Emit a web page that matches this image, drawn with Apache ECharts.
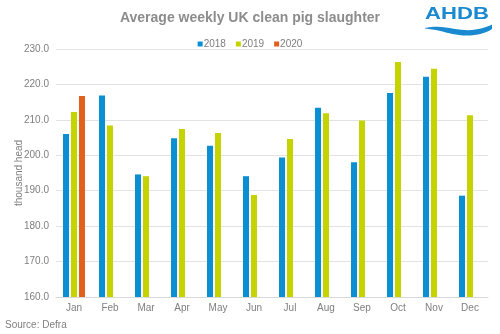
<!DOCTYPE html>
<html>
<head>
<meta charset="utf-8">
<script src="https://cdn.jsdelivr.net/npm/echarts@6/dist/echarts.min.js"></script>
<style>
  html, body { margin: 0; padding: 0; background: #fff; }
  #chart { width: 500px; height: 334px; }
</style>
</head>
<body>
<div id="chart"></div>
<script>
// Average weekly clean pig slaughter, thousand head
const months = ['Jan', 'Feb', 'Mar', 'Apr', 'May', 'Jun', 'Jul', 'Aug', 'Sep', 'Oct', 'Nov', 'Dec'];
const years = ['2018', '2019', '2020'];
const values2018 = [206.0, 216.9, 194.6, 204.8, 202.7, 194.1, 199.4, 213.4, 198.0, 217.6, 222.2, 188.6];
const values2019 = [212.2, 208.4, 194.1, 207.4, 206.3, 188.8, 204.6, 211.9, 209.8, 226.3, 224.4, 211.3];
const values2020 = [216.7, null, null, null, null, null, null, null, null, null, null, null];
const yTicks = { min: 160, max: 230, step: 10 };

const colors = ['#0a8fd2', '#c5d400', '#e0601c'];
const font = '"Liberation Sans", Arial, sans-serif';
const seriesValues = [values2018, values2019, values2020];

// Sample a cubic bezier into points
function cubic(p0, p1, p2, p3, n) {
  const pts = [];
  for (let i = 0; i <= n; i++) {
    const t = i / n, u = 1 - t;
    pts.push([
      u * u * u * p0[0] + 3 * u * u * t * p1[0] + 3 * u * t * t * p2[0] + t * t * t * p3[0],
      u * u * u * p0[1] + 3 * u * u * t * p1[1] + 3 * u * t * t * p2[1] + t * t * t * p3[1]
    ]);
  }
  return pts;
}
// Logo swoosh outline: upper edge left->right, lower edge right->left
const swoosh = [].concat(
  cubic([425, 28], [442, 24], [458, 31.5], [472, 30], 12),
  cubic([472, 30], [481, 29], [487, 27], [492, 24.5], 8),
  cubic([492, 29], [486, 33], [478, 35.5], [466, 35.5], 8),
  cubic([466, 35.5], [452, 35.5], [440, 29.5], [425, 28.6], 12)
);

const chart = echarts.init(document.getElementById('chart'), null, { renderer: 'canvas' });

chart.setOption({
  animation: false,
  color: colors,
  textStyle: { fontFamily: font },
  title: {
    text: 'Average weekly UK clean pig slaughter',
    left: 'center',
    top: 6,
    textStyle: { fontFamily: font, fontSize: 14, fontWeight: 'bold', color: '#8c8c8c' }
  },
  legend: {
    data: years,
    top: 34,
    left: 'center',
    itemWidth: 5,
    itemHeight: 5,
    itemGap: 10,
    icon: 'rect',
    textStyle: { fontFamily: font, fontSize: 10, color: '#7f7f7f', padding: [0, 0, 0, -4] }
  },
  grid: { left: 56, right: 12, top: 49, bottom: 37, outerBoundsMode: 'none' },
  xAxis: {
    type: 'category',
    data: months,
    axisTick: { show: false },
    axisLine: { lineStyle: { color: '#d9d9d9' } },
    axisLabel: { color: '#7f7f7f', fontSize: 10, margin: 6, fontFamily: font }
  },
  yAxis: {
    type: 'value',
    min: yTicks.min,
    max: yTicks.max,
    interval: yTicks.step,
    name: 'thousand head',
    nameLocation: 'middle',
    nameGap: 32,
    nameMoveOverlap: false,
    nameTextStyle: { color: '#7f7f7f', fontSize: 10, fontFamily: font },
    axisLine: { show: false },
    axisTick: { show: false },
    splitLine: { lineStyle: { color: '#e3e3e3' } },
    axisLabel: {
      color: '#7f7f7f', fontSize: 10, margin: 7, fontFamily: font,
      formatter: v => v.toFixed(1)
    }
  },
  series: years.map((y, i) => ({
    name: y,
    type: 'bar',
    data: seriesValues[i],
    barWidth: 6,
    barGap: '33%',
    itemStyle: { color: colors[i] }
  })),
  graphic: [
    {
      type: 'text',
      left: 5,
      top: 320,
      style: { text: 'Source: Defra', fill: '#7f7f7f', font: '10px ' + font }
    },
    {
      type: 'text',
      x: 425,
      y: 6,
      scaleX: 1.3,
      style: { text: 'AHDB', fill: '#1a8ad0', font: 'bold 17px ' + font }
    },
    {
      type: 'polygon',
      shape: { points: swoosh },
      style: { fill: '#1a8ad0' }
    }
  ]
});
</script>
</body>
</html>
